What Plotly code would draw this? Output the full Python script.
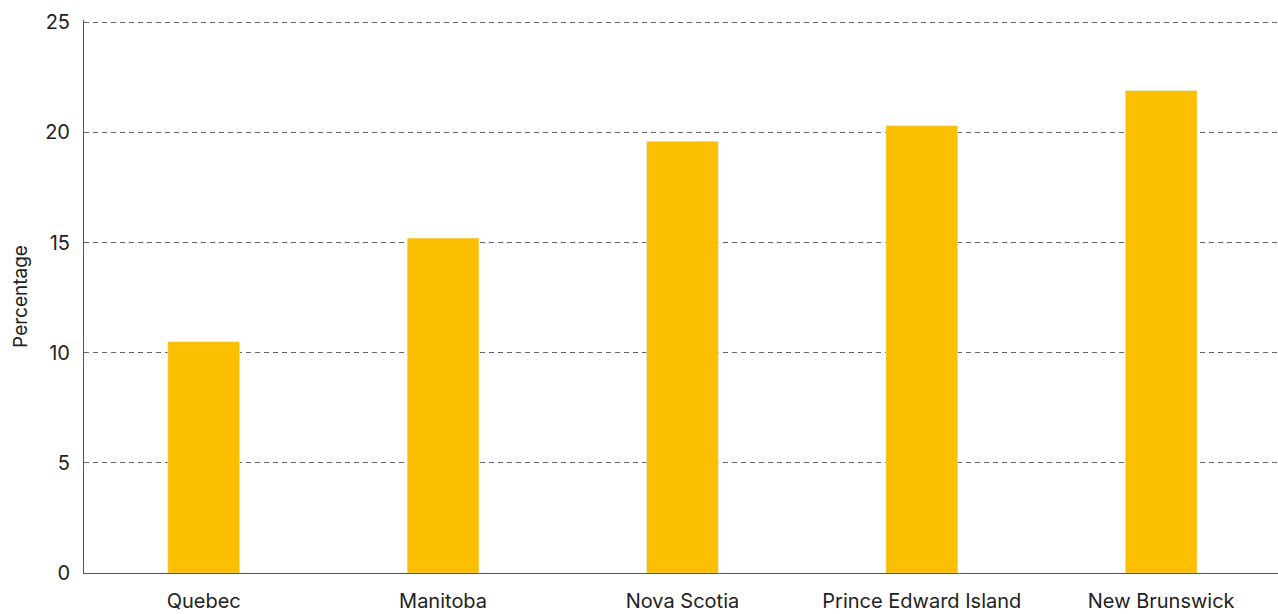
import plotly.graph_objects as go

categories = ["Quebec", "Manitoba", "Nova Scotia", "Prince Edward Island", "New Brunswick"]
values = [10.5, 15.2, 19.6, 20.3, 21.9]
y_ticks = [0, 5, 10, 15, 20, 25]

fig = go.Figure(go.Bar(x=categories, y=values, marker_color="#FBBF00", width=0.3))

fig.update_layout(
    width=1278, height=614,
    margin=dict(l=84, r=0, t=20, b=41),
    plot_bgcolor="white", paper_bgcolor="white",
    font=dict(family="Inter, Roboto, sans-serif", size=20, color="#222"),
    showlegend=False,
)
fig.update_xaxes(
    range=[-0.5, 4.488], showgrid=False,
    showline=True, linecolor="#555", linewidth=1,
    ticks="", tickfont=dict(size=20), ticklabelstandoff=10,
)
fig.update_yaxes(
    range=[0, 25.1], tickvals=y_ticks, showgrid=True,
    gridcolor="#666", griddash="5px,4px", gridwidth=1,
    showline=True, linecolor="#555", linewidth=1,
    zeroline=False, ticks="", tickfont=dict(size=20), ticklabelstandoff=9,
    title=dict(text="Percentage", font=dict(size=19), standoff=12),
)
fig.write_html("out.html")
